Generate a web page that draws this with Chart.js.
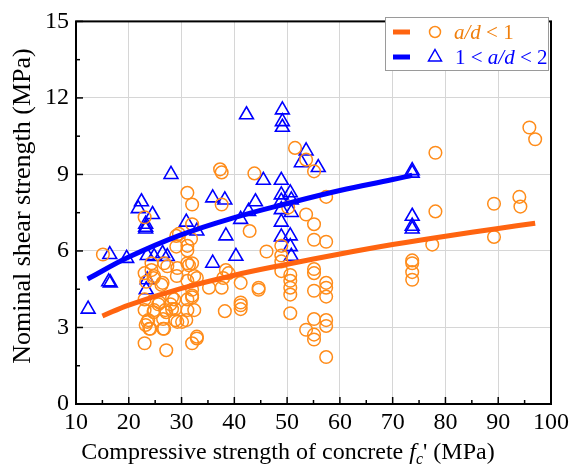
<!DOCTYPE html>
<html>
<head>
<meta charset="utf-8">
<title>Nominal shear strength vs compressive strength</title>
<script src="https://cdn.jsdelivr.net/npm/chart.js@4.4.0/dist/chart.umd.min.js"></script>
<style>
  html, body { margin: 0; padding: 0; background: #fff; }
</style>
</head>
<body>
<canvas id="chartShear" width="573" height="475"></canvas>
<script>
// datos de ensayos: [fc', Vn]
var adMenor1 = [
  [15.1, 5.86], [23.0, 7.32], [23.0, 2.38], [27.1, 2.11], [32.0, 7.82], [31.1, 8.28], [32.0, 7.05],
  [31.8, 6.48], [31.1, 6.02], [31.1, 6.20], [29.0, 6.17], [29.0, 6.59], [29.5, 6.67], [29.2, 5.33],
  [31.1, 5.52], [32.0, 5.52], [32.9, 4.94], [31.1, 4.83], [32.0, 4.48], [32.0, 4.25], [31.1, 4.10],
  [32.4, 3.68], [30.9, 3.29], [32.0, 2.38], [32.9, 2.57], [29.2, 3.22], [28.2, 3.72], [28.6, 4.10],
  [27.1, 3.60], [26.7, 2.95], [23.9, 2.95], [23.5, 3.22], [23.0, 3.68], [24.8, 3.68], [25.8, 3.98],
  [23.0, 4.10], [26.4, 4.75], [24.8, 5.02], [23.0, 5.13], [23.3, 4.79], [24.3, 5.52], [24.3, 5.25],
  [26.7, 5.52], [24.7, 4.94], [26.2, 4.67], [28.2, 4.18], [25.6, 3.91], [24.7, 3.60], [26.9, 3.68],
  [28.8, 3.72], [23.7, 3.29], [26.5, 3.33], [28.8, 3.29], [24.1, 2.95], [26.5, 2.95], [30.1, 3.22],
  [23.2, 3.10], [27.9, 3.91], [29.1, 5.02], [27.3, 5.40], [32.4, 5.02], [31.4, 5.44], [32.0, 4.18],
  [31.1, 3.68], [32.9, 2.64], [35.2, 4.56], [37.6, 4.56], [37.9, 4.94], [38.4, 5.25], [38.9, 5.13],
  [38.2, 3.64], [41.2, 4.75], [41.2, 3.98], [41.2, 3.87], [41.2, 3.72], [44.6, 4.56], [44.6, 4.48],
  [46.1, 5.98], [42.9, 6.78], [37.6, 7.82], [37.3, 9.20], [37.6, 9.08], [43.8, 9.04], [48.9, 6.20],
  [48.9, 5.82], [48.9, 5.59], [48.9, 5.21], [50.6, 5.06], [50.6, 4.83], [50.6, 4.56], [50.6, 4.29],
  [50.6, 3.56], [50.2, 7.70], [51.5, 10.04], [53.6, 9.58], [55.1, 9.12], [57.4, 8.12], [53.6, 7.43],
  [55.1, 7.05], [55.1, 6.44], [57.4, 6.36], [55.1, 5.29], [55.1, 5.13], [55.1, 4.44], [57.4, 4.75],
  [57.4, 4.56], [57.4, 4.21], [55.1, 3.33], [57.4, 3.29], [57.4, 3.06], [53.6, 2.91], [55.1, 2.72],
  [55.1, 2.53], [57.4, 1.84], [73.7, 5.63], [73.7, 5.52], [73.7, 5.17], [73.7, 4.87], [78.1, 9.85],
  [78.1, 7.55], [77.5, 6.25], [89.2, 7.85], [89.2, 6.55], [94.0, 8.12], [94.2, 7.74], [95.9, 10.84],
  [97.0, 10.38]
];

var adEntre1y2 = [
  [12.3, 3.72], [16.2, 4.79], [16.5, 4.75], [16.4, 5.86], [19.6, 5.71], [22.4, 7.93], [21.8, 7.66],
  [24.5, 7.43], [23.2, 7.05], [23.2, 6.93], [23.2, 6.86], [23.5, 5.82], [24.8, 5.78], [26.4, 5.90],
  [27.3, 5.78], [23.3, 4.48], [23.5, 4.87], [28.0, 9.00], [30.9, 7.13], [32.9, 6.78], [35.9, 5.52],
  [38.4, 6.59], [40.3, 5.79], [41.2, 7.24], [42.7, 7.55], [44.0, 7.93], [35.9, 8.08], [38.2, 8.00],
  [42.3, 11.34], [49.1, 11.53], [49.1, 11.07], [49.1, 10.85], [45.5, 8.77], [48.9, 8.77], [48.9, 8.20],
  [50.6, 8.28], [50.8, 8.00], [53.6, 9.92], [52.7, 9.46], [55.9, 9.27], [48.9, 7.62], [50.8, 7.51],
  [48.9, 7.13], [48.9, 6.55], [50.6, 6.59], [50.6, 6.17], [50.8, 5.79], [48.9, 7.95], [73.7, 9.15],
  [73.7, 9.05], [73.7, 7.36], [73.7, 6.97], [73.7, 6.86]
];

var ajusteX1 = [15, 20, 30, 40, 50, 60, 70, 80, 90, 97];
var ajusteY1 = [3.45, 3.88, 4.53, 5.05, 5.48, 5.88, 6.25, 6.58, 6.88, 7.09];
var ajusteX2 = [12.2, 20, 30, 40, 50, 60, 70, 73.7];
var ajusteY2 = [4.90, 5.76, 6.64, 7.31, 7.86, 8.37, 8.80, 8.97];

var ticksX = [10, 20, 30, 40, 50, 60, 70, 80, 90, 100];
var ticksY = [0, 3, 6, 9, 12, 15];

var naranja = '#ff8c1a';
var naranjaLinea = '#ff6410';
var azul = '#0000ff';
var serif = '"Liberation Serif", "Times New Roman", serif';

function aPuntos(arr) {
  return arr.map(function (p) { return { x: p[0], y: p[1] }; });
}
function curva(xs, ys) {
  return xs.map(function (x, i) { return { x: x, y: ys[i] }; });
}

// marco, ticks hacia dentro, titulos y leyenda
var marco = {
  id: 'marco',
  afterDatasetsDraw: function (chart) {
    var ctx = chart.ctx, a = chart.chartArea;
    var sx = chart.scales.x, sy = chart.scales.y;
    ctx.save();
    ctx.strokeStyle = '#000';
    ctx.lineWidth = 1.5;
    var v, p, len;
    for (v = 10; v <= 100; v += 5) {
      p = sx.getPixelForValue(v);
      len = v % 10 === 0 ? 7 : 4;
      ctx.beginPath(); ctx.moveTo(p, a.bottom); ctx.lineTo(p, a.bottom - len); ctx.stroke();
    }
    for (v = 0; v <= 15; v += 1.5) {
      p = sy.getPixelForValue(v);
      len = (Math.round(v * 10) % 30 === 0) ? 7 : 4;
      ctx.beginPath(); ctx.moveTo(a.left, p); ctx.lineTo(a.left + len, p); ctx.stroke();
    }
    ctx.lineWidth = 2;
    ctx.strokeRect(a.left, a.top, a.right - a.left, a.bottom - a.top);
    ctx.restore();
  },
  afterDraw: function (chart) {
    var ctx = chart.ctx;
    ctx.save();
    ctx.fillStyle = '#000';
    ctx.textBaseline = 'alphabetic';

    // titulo eje x con f'c
    var partes = [
      { t: 'Compressive strength of concrete ', f: '24px ' + serif, dy: 0 },
      { t: 'f', f: 'italic 24px ' + serif, dy: 0 },
      { t: 'c', f: 'italic 16px ' + serif, dy: 5 },
      { t: "' (MPa)", f: '24px ' + serif, dy: 0 }
    ];
    var total = 0;
    partes.forEach(function (q) { ctx.font = q.f; q.w = ctx.measureText(q.t).width; total += q.w; });
    var x = 288 - total / 2;
    partes.forEach(function (q) {
      ctx.font = q.f;
      ctx.fillText(q.t, x, 459 + q.dy);
      x += q.w;
    });

    // titulo eje y
    ctx.save();
    ctx.translate(23, 206);
    ctx.rotate(-Math.PI / 2);
    ctx.font = '26px ' + serif;
    ctx.textAlign = 'center';
    ctx.textBaseline = 'middle';
    ctx.fillText('Nominal shear strength (MPa)', 0, 0);
    ctx.restore();

    // leyenda
    ctx.fillStyle = '#fff';
    ctx.fillRect(385, 17, 163, 53);
    ctx.strokeStyle = '#9a9a9a';
    ctx.lineWidth = 1;
    ctx.strokeRect(385.5, 17.5, 163, 53);

    ctx.lineCap = 'butt';
    ctx.lineWidth = 5;
    ctx.strokeStyle = naranjaLinea;
    ctx.beginPath(); ctx.moveTo(393, 32); ctx.lineTo(410, 32); ctx.stroke();
    ctx.strokeStyle = azul;
    ctx.beginPath(); ctx.moveTo(393, 57); ctx.lineTo(410, 57); ctx.stroke();

    ctx.lineWidth = 1.5;
    ctx.strokeStyle = naranja;
    ctx.beginPath(); ctx.arc(435, 32, 5.5, 0, Math.PI * 2); ctx.stroke();
    ctx.strokeStyle = azul;
    ctx.beginPath();
    ctx.moveTo(435, 49.5); ctx.lineTo(441.5, 61); ctx.lineTo(428.5, 61); ctx.closePath();
    ctx.stroke();

    function texto(trozos, x0, y0, color) {
      ctx.fillStyle = color;
      trozos.forEach(function (q) {
        ctx.font = q[1] + '21px ' + serif;
        ctx.fillText(q[0], x0, y0);
        x0 += ctx.measureText(q[0]).width;
      });
    }
    texto([['a/d', 'italic '], [' < 1', '']], 454, 39, '#f07f0c');
    texto([['1 < ', ''], ['a/d', 'italic '], [' < 2', '']], 455, 64, azul);
    ctx.restore();
  }
};

var ctxShear = document.getElementById('chartShear');

var chartShear = new Chart(ctxShear, {
  type: 'scatter',
  data: {
    datasets: [{
      type: 'line',
      label: 'ajuste a/d < 1',
      data: curva(ajusteX1, ajusteY1),
      borderColor: naranjaLinea,
      borderWidth: 5,
      pointRadius: 0,
      fill: false,
      tension: 0.4
    }, {
      type: 'line',
      label: 'ajuste 1 < a/d < 2',
      data: curva(ajusteX2, ajusteY2),
      borderColor: azul,
      borderWidth: 5,
      pointRadius: 0,
      fill: false,
      tension: 0.4
    }, {
      label: 'a/d < 1',
      data: aPuntos(adMenor1),
      pointStyle: 'circle',
      pointRadius: 6.3,
      borderColor: naranja,
      backgroundColor: 'rgba(0,0,0,0)',
      borderWidth: 1.5
    }, {
      label: '1 < a/d < 2',
      data: aPuntos(adEntre1y2),
      pointStyle: 'triangle',
      pointRadius: 8,
      borderColor: azul,
      backgroundColor: 'rgba(0,0,0,0)',
      borderWidth: 1.6
    }]
  },
  options: {
    responsive: false,
    animation: false,
    devicePixelRatio: 1,
    layout: { padding: { top: 13, right: 18, left: 0, bottom: 0 } },
    plugins: { legend: { display: false }, tooltip: { enabled: false } },
    scales: {
      x: {
        type: 'linear',
        min: 10, max: 100,
        afterBuildTicks: function (s) { s.ticks = ticksX.map(function (v) { return { value: v }; }); },
        afterFit: function (s) { s.height = 71; },
        grid: { color: '#d6d6d6', lineWidth: 1, drawTicks: false },
        border: { display: false },
        ticks: { color: '#000', padding: 4, font: { family: serif, size: 24 }, maxRotation: 0 }
      },
      y: {
        type: 'linear',
        min: 0, max: 15,
        afterBuildTicks: function (s) { s.ticks = ticksY.map(function (v) { return { value: v }; }); },
        afterFit: function (s) { s.width = 76; },
        grid: { color: '#d6d6d6', lineWidth: 1, drawTicks: false },
        border: { display: false },
        ticks: { color: '#000', padding: 7, font: { family: serif, size: 24 } }
      }
    }
  },
  plugins: [marco]
});
</script>
</body>
</html>
